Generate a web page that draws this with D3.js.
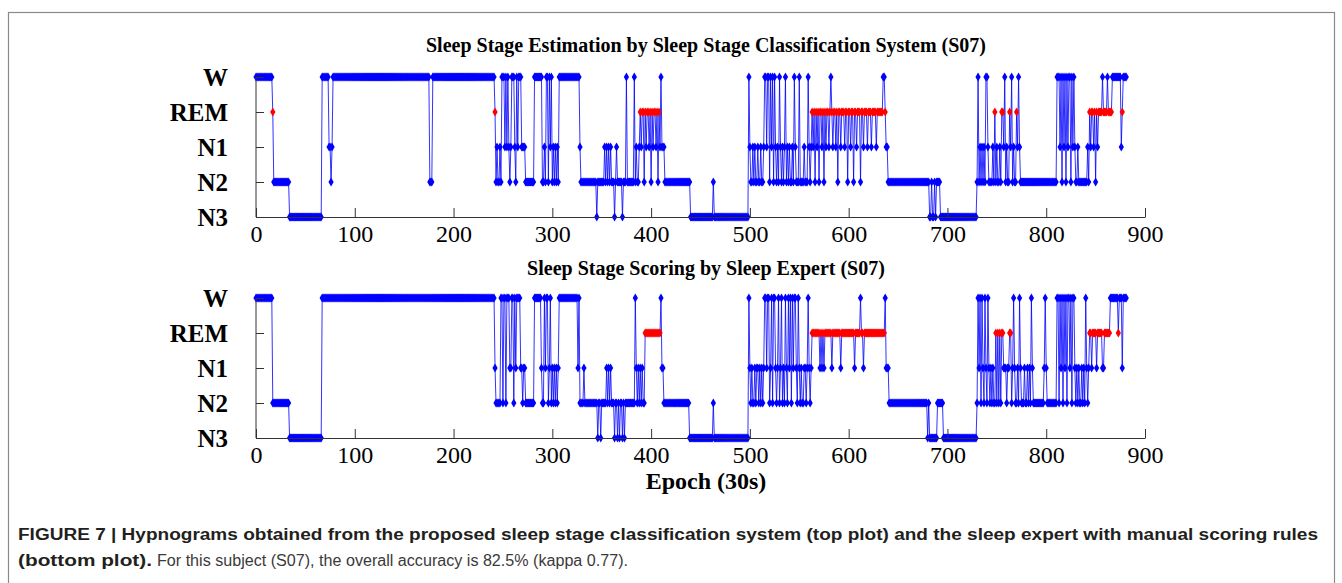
<!DOCTYPE html>
<html><head><meta charset="utf-8">
<script src="https://cdn.jsdelivr.net/npm/d3@7"></script>
<style>body{margin:0;background:#fff;}svg{display:block}</style>
</head><body>
<svg id="chart" width="1342" height="583"></svg>
<script>
// ---------- DATA ----------
const stages = ["N3", "N2", "N1", "REM", "W"];
const xTickValues = [0, 100, 200, 300, 400, 500, 600, 700, 800, 900];
const topTitle = "Sleep Stage Estimation by Sleep Stage Classification System (S07)";
const bottomTitle = "Sleep Stage Scoring by Sleep Expert (S07)";
const xLabel = "Epoch (30s)";
const captionBold1 = "FIGURE 7 | Hypnograms obtained from the proposed sleep stage classification system (top plot) and the sleep expert with manual scoring rules";
const captionBold2 = "(bottom plot).";
const captionNormal2 = "For this subject (S07), the overall accuracy is 82.5% (kappa 0.77).";

// run-length encoded hypnograms: [stage, number of epochs]
const estimatedRuns = [
["W",17],["REM",1],["N2",16],["N3",33],["W",7],["N1",2],["N2",1],["N1",1],["W",98],["N2",3],["W",63],["REM",1],
["N2",1],["N1",1],["N2",2],["N1",1],["N2",1],
["W",3],["N1",1],["W",1],["N1",1],["W",1],["N1",1],["N2",1],["N1",1],
["W",3],["N1",1],["N2",1],["W",1],["N1",1],["W",3],["N1",4],["N2",9],
["W",8],["N2",2],["N1",1],["N2",1],["W",2],["N2",1],["W",1],["N1",1],["W",1],["N2",1],["N1",1],["N2",1],["N1",1],["N2",1],["N1",1],["N2",1],
["W",21],["N1",1],
["N2",16],["N3",1],["N2",7],["N1",1],["N2",1],["N1",1],["N2",1],["N1",1],["N2",1],["N1",1],["N2",3],["N3",1],["N2",1],["N1",1],["N2",5],["N3",1],["N2",3],["W",1],["N2",7],["W",1],["N2",1],["N1",1],["N2",2],["N1",1],
["REM",1],["N1",1],["REM",2],["N2",1],["REM",1],["N1",1],["REM",2],["N1",1],["REM",1],["N2",1],["REM",1],["N1",1],["REM",2],["N1",1],["REM",1],["N2",1],["REM",1],["N1",1],["W",1],["N1",3],
["N2",26],["N3",23],["N2",1],["N3",35],["W",1],
["N1",1],["N2",2],["N1",1],["N2",1],["N1",1],["N2",2],["N1",1],["N2",2],["N1",1],["N2",2],["N1",1],["W",2],["N1",1],["W",2],["N2",1],["W",1],["N1",1],["W",1],["N2",1],["W",1],["N1",1],["N2",1],["N1",1],["N2",1],["W",1],["N1",1],["N2",1],["N1",1],["N2",1],["N1",1],["W",1],["N2",1],["N1",1],["N2",1],["N1",1],
["N2",2],["N1",1],["N2",1],["W",1],["N1",1],["N2",3],["W",1],["N2",4],["N1",1],["N2",3],["W",1],["N1",1],["N2",1],["N1",1],
["REM",1],["N1",1],["REM",1],["N2",1],["REM",1],["N1",1],["REM",1],["N2",1],["REM",2],["N1",1],["REM",1],["N2",1],["REM",1],["N1",1],["REM",2],["N1",1],["REM",1],["W",1],["REM",1],["N1",1],["REM",2],["N1",1],["REM",1],["N2",1],["REM",2],["N1",1],["REM",3],["N1",1],["REM",2],["N2",1],["REM",2],["N1",1],["REM",2],["N2",1],["REM",2],["N1",1],["REM",3],["N2",1],["REM",2],["N1",1],["REM",3],["N1",1],["REM",3],["N1",1],["REM",4],["N1",1],["REM",6],["W",2],["REM",1],["N1",2],
["N2",42],["N3",2],["N2",1],["N3",2],["N2",1],["N3",1],["N2",4],["N3",37],
["N2",1],["W",1],["N2",1],["N1",1],["N2",1],["N1",1],["N2",1],["N1",1],["N2",1],["W",2],["N1",1],["N2",4],["N1",1],["N2",1],["REM",1],["N2",1],["N1",1],["N2",2],["N1",1],["N2",1],["REM",2],["N1",1],["W",1],["N2",1],["N1",1],["N2",2],["REM",1],["N1",1],["W",1],["N2",1],["N1",1],["N2",2],["REM",1],["N1",1],["W",1],["N1",1],["N2",1],
["N2",36],
["W",3],["N1",1],["W",1],["N2",1],["W",1],["N1",1],["W",1],["N2",1],["W",1],["N1",1],["W",2],["N2",1],["W",1],["N1",1],["W",1],["N1",1],["N2",2],["N1",1],["N2",9],["N1",1],["N2",1],
["REM",1],["N1",1],["REM",2],["N1",1],["REM",1],["N2",1],["REM",1],["N1",1],["REM",4],["W",1],["REM",4],["W",1],["REM",4],["W",9],["N1",1],["REM",1],["W",4]
];

const expertRuns = [
["W",17],["N2",17],["N3",33],["W",175],
["N1",1],["N2",5],["W",2],["N2",1],["W",2],["N2",1],["W",3],["N1",2],["W",2],["N2",1],["W",1],["N1",1],["W",4],["N1",2],["N2",1],["N1",2],["N2",9],
["W",7],["N1",1],["N2",2],["W",1],["N1",1],["W",2],["N2",1],["N1",1],["W",1],["N2",1],["N1",1],["N2",1],["N1",1],["N2",1],["N1",1],["N2",1],["N1",1],
["W",19],["N1",1],["W",1],["N2",4],["N1",1],["N2",13],["N3",1],["N2",2],["N3",1],["N2",5],["N1",1],["N2",1],["N1",1],["N2",1],["N1",1],["N2",3],["N3",1],["N2",2],["N3",1],["N2",1],["N3",1],["N2",2],["N3",1],["N2",1],["N3",1],["N2",10],["W",1],["N1",1],["N2",1],["N1",1],["N2",1],["N1",1],["N2",1],["N1",1],["N2",2],
["REM",16],["W",1],["N1",2],["N2",26],["N3",24],["N2",1],["N3",35],["W",1],
["N1",1],["N2",1],["N1",1],["N2",2],["N1",1],["N2",1],["N1",2],["N2",1],["N1",1],["N2",1],["N1",1],["N2",1],["N1",1],["W",2],["N1",1],["W",2],["N2",1],["N1",1],["W",1],["N2",1],["W",2],["N1",1],["N2",1],["N1",1],["W",1],["N2",1],["N1",1],["W",1],["N2",1],["N1",1],["N2",1],["W",1],["N1",1],["N2",1],["W",1],["N1",1],
["W",1],["N2",1],["W",1],["N1",1],["W",2],["N1",1],["N2",1],["W",1],["N1",1],["N2",1],["N1",1],["N2",2],["N1",2],["N2",1],["N1",1],["W",1],["N1",1],["N2",1],["N1",1],
["REM",8],["N1",1],["REM",1],["N1",1],["REM",1],["N1",1],["REM",7],["N1",1],["REM",8],["N1",1],["REM",13],["N1",1],["REM",5],["W",1],["REM",2],["N1",1],["REM",21],["W",1],["N1",3],
["N2",39],["N3",1],["N2",1],["N3",8],["N2",6],["N3",34],
["N2",1],["W",1],["N1",1],["W",1],["N2",1],["W",1],["N1",1],["N2",1],["W",1],["N1",1],["N2",1],["W",1],["N1",1],["N2",1],["N1",1],["N2",1],["N1",1],["N2",2],["REM",1],["N2",1],["REM",1],["N2",1],["REM",1],["N2",1],["REM",2],["N1",3],["N2",1],["N1",2],["REM",2],["N2",1],["N1",1],["W",1],["N1",1],["N2",2],["N1",1],["N2",1],["W",1],["N1",1],["N2",3],["N1",1],["N2",2],["N1",1],["N2",1],["N1",1],["N2",1],["W",1],["N1",1],["N2",11],["N1",1],["W",1],["N1",1],["N2",10],
["W",2],["N2",1],["W",1],["N1",1],["W",1],["N2",1],["W",1],["N1",1],["W",1],["N2",1],["W",2],["N1",1],["W",1],["N2",1],["W",2],["N1",1],["N2",1],["N1",1],["N2",1],["N1",1],["N2",2],["N1",1],["N2",1],["N1",1],["N2",1],["W",1],["N1",1],["N2",1],["N1",1],
["REM",2],["N1",1],["REM",4],["N1",1],["REM",5],["N1",2],["REM",6],["W",8],["REM",1],["W",3],["N1",1],["W",4]
];

// ---------- BUILD ----------
function expand(runs) {
  const out = [];
  runs.forEach(([s, n]) => { for (let k = 0; k < n; k++) out.push({ epoch: out.length, stage: s }); });
  return out;
}
const estimated = expand(estimatedRuns);
const expert = expand(expertRuns);

const svg = d3.select("#chart");
const serif = "'Liberation Serif','Times New Roman',serif";
const blue = "#0000ff", red = "#ff0000";

// frame
svg.append("rect").attr("x", 8.5).attr("y", 12.5).attr("width", 1326).attr("height", 580)
  .attr("fill", "none").attr("stroke", "#8a8a8a").attr("stroke-width", 1.2);

const x = d3.scaleLinear().domain([0, 900]).range([256, 1145]);

function drawPlot(data, yRange, title, titleY) {
  const y = d3.scalePoint().domain(stages).range(yRange);
  const g = svg.append("g");

  const line = d3.line().x(d => x(d.epoch)).y(d => y(d.stage));
  g.append("path").datum(data).attr("d", line)
    .attr("fill", "none").attr("stroke", blue).attr("stroke-width", 1).attr("stroke-opacity", 0.8);

  const sym = d3.symbol().type(d3.symbolDiamond).size(24);
  g.selectAll("path.m").data(data.filter(d => d.stage !== "REM")).join("path")
    .attr("class", "m").attr("d", sym)
    .attr("transform", d => `translate(${x(d.epoch)},${y(d.stage)})`)
    .attr("fill", blue);
  g.selectAll("path.r").data(data.filter(d => d.stage === "REM")).join("path")
    .attr("class", "r").attr("d", sym)
    .attr("transform", d => `translate(${x(d.epoch)},${y(d.stage)})`)
    .attr("fill", red);

  const yAxis = d3.axisLeft(y).tickSize(-8).tickSizeOuter(0).tickPadding(28);
  const ga = g.append("g").attr("transform", `translate(${x(0)},0)`).call(yAxis);
  ga.select(".domain").attr("stroke", "#333").attr("d", `M0,${yRange[1]}V${yRange[0]}`);
  ga.selectAll(".tick line").attr("stroke", "#333");
  ga.selectAll("text").attr("font-family", serif).attr("font-weight", "bold")
    .attr("font-size", 25).attr("fill", "#000");

  const xAxis = d3.axisBottom(x).tickValues(xTickValues).tickSize(-9).tickSizeOuter(0).tickPadding(8).tickFormat(d3.format("d"));
  const gx = g.append("g").attr("transform", `translate(0,${yRange[0]})`).call(xAxis);
  gx.select(".domain").attr("stroke", "#333");
  gx.selectAll(".tick line").attr("stroke", "#333");
  gx.selectAll("text").attr("font-family", serif).attr("font-size", 24).attr("fill", "#000");

  svg.append("text").attr("x", 706).attr("y", titleY).attr("text-anchor", "middle")
    .attr("font-family", serif).attr("font-weight", "bold").attr("font-size", 20).text(title);
}

drawPlot(estimated, [217, 77], topTitle, 52);
drawPlot(expert, [438, 298], bottomTitle, 275);

svg.append("text").attr("x", 706).attr("y", 489).attr("text-anchor", "middle")
  .attr("font-family", serif).attr("font-weight", "bold").attr("font-size", 24).text(xLabel);

// caption
const sans = "'Liberation Sans',Arial,sans-serif";
svg.append("text").attr("x", 18).attr("y", 540).attr("font-family", sans).attr("font-weight", "bold")
  .attr("font-size", 16).attr("fill", "#231f20").attr("textLength", 1300).attr("lengthAdjust", "spacingAndGlyphs").text(captionBold1);
svg.append("text").attr("x", 18).attr("y", 566).attr("font-family", sans).attr("font-weight", "bold")
  .attr("font-size", 16).attr("fill", "#231f20").attr("textLength", 134).attr("lengthAdjust", "spacingAndGlyphs").text(captionBold2);
svg.append("text").attr("x", 157).attr("y", 566).attr("font-family", sans)
  .attr("font-size", 16).attr("fill", "#3a3a3a").attr("textLength", 471).attr("lengthAdjust", "spacingAndGlyphs").text(captionNormal2);
</script>
</body></html>
